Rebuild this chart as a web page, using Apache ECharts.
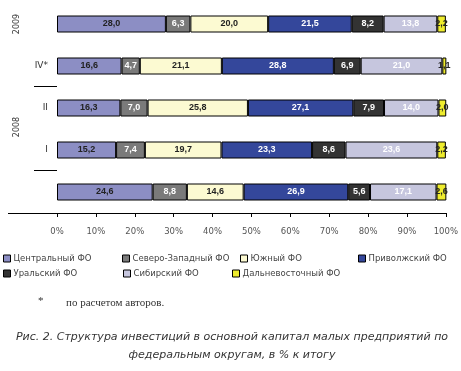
<!DOCTYPE html>
<html><head><meta charset="utf-8">
<script src="https://cdn.jsdelivr.net/npm/echarts@6/dist/echarts.min.js"></script>
<style>html,body{margin:0;padding:0;background:#fff}#c{width:461px;height:371px}</style>
</head><body><div id="c"></div>
<script>
const categories = ['2009', 'IV*', 'II', 'I', '2007'];
const catLabels = ['', 'IV*', 'II', 'I', ''];
const central = [28.0, 16.6, 16.3, 15.2, 24.6];
const northwest = [6.3, 4.7, 7.0, 7.4, 8.8];
const south = [20.0, 21.1, 25.8, 19.7, 14.6];
const volga = [21.5, 28.8, 27.1, 23.3, 26.9];
const ural = [8.2, 6.9, 7.9, 8.6, 5.6];
const siberia = [13.8, 21.0, 14.0, 23.6, 17.1];
const fareast = [2.2, 1.1, 2.0, 2.2, 2.6];
const xTicks = ['0%','10%','20%','30%','40%','50%','60%','70%','80%','90%','100%'];
const names = ['Центральный ФО','Северо-Западный ФО','Южный ФО','Приволжский ФО','Уральский ФО','Сибирский ФО','Дальневосточный ФО'];
const values = [central, northwest, south, volga, ural, siberia, fareast];
const colors = ['#8c8ec4','#7a7a7a','#fcfad2','#34479b','#333333','#c6c6de','#eeec2e'];
const labelColors = ['#222','#fff','#222','#fff','#fff','#fff','#222'];

const series = names.map((n, i) => ({
  name: n, type: 'bar', stack: 'all', barWidth: 17,
  data: values[i],
  itemStyle: { color: colors[i], borderColor: '#000', borderWidth: 1 },
  label: { show: true, position: 'inside', color: labelColors[i], fontSize: 9, fontWeight: 'bold',
    fontFamily: 'Liberation Sans', formatter: p => p.value.toFixed(1).replace('.', ',') },
  emphasis: { disabled: true }
}));

const legPos = [[3,254],[122,254],[240,254],[358,254],[3,269],[123,269],[232,269]];
const legends = names.map((n, i) => ({
  data: [n], left: legPos[i][0], top: legPos[i][1], itemWidth: 7, itemHeight: 7, itemGap: 3,
  padding: 0, icon: 'rect',
  itemStyle: { borderColor: '#000', borderWidth: 1 },
  textStyle: { fontSize: 8.5, color: '#444', fontFamily: 'DejaVu Sans', padding: [0,0,0,-2] }
}));

const chart = echarts.init(document.getElementById('c'));
chart.setOption({
  animation: false,
  legend: legends,
  grid: { left: 57, right: 14, top: 3, height: 210 },
  xAxis: { type: 'value', min: 0, max: 100, interval: 10,
    axisLine: { show: true, lineStyle: { color: '#000' } },
    axisTick: { show: true, length: 4, lineStyle: { color: '#000' } },
    splitLine: { show: false },
    axisLabel: { margin: 14, fontSize: 8.5, color: '#555', fontFamily: 'DejaVu Sans',
      formatter: (v) => xTicks[Math.round(v / 10)] } },
  yAxis: { type: 'category', inverse: true, data: categories,
    axisLine: { show: false }, axisTick: { show: false },
    axisLabel: { margin: 9, fontSize: 9, color: '#333', fontFamily: 'DejaVu Sans',
      formatter: (v, i) => catLabels[i] } },
  graphic: [
    { type: 'line', shape: { x1: 8, y1: 213.5, x2: 57, y2: 213.5 }, style: { stroke: '#000', lineWidth: 1 } },
    { type: 'line', shape: { x1: 34, y1: 86.5, x2: 57, y2: 86.5 }, style: { stroke: '#000', lineWidth: 1 } },
    { type: 'line', shape: { x1: 34, y1: 170.5, x2: 57, y2: 170.5 }, style: { stroke: '#000', lineWidth: 1 } },
    { type: 'text', x: 17, y: 24, rotation: Math.PI / 2,
      style: { text: '2009', fontSize: 8, fill: '#333', fontFamily: 'DejaVu Sans', align: 'center', verticalAlign: 'middle' } },
    { type: 'text', x: 17, y: 127, rotation: Math.PI / 2,
      style: { text: '2008', fontSize: 8, fill: '#333', fontFamily: 'DejaVu Sans', align: 'center', verticalAlign: 'middle' } },
    { type: 'text', x: 38, y: 296,
      style: { text: '*', fontSize: 11, fill: '#333', fontFamily: 'Liberation Serif' } },
    { type: 'text', x: 66, y: 298,
      style: { text: 'по расчетом авторов.', fontSize: 11, fill: '#333', fontFamily: 'Liberation Serif' } },
    { type: 'text', x: 232, y: 337,
      style: { text: 'Рис. 2. Структура инвестиций в основной капитал малых предприятий по', fontSize: 11,
        fontStyle: 'italic', fill: '#333', fontFamily: 'DejaVu Sans', align: 'center', verticalAlign: 'middle' } },
    { type: 'text', x: 232, y: 355,
      style: { text: 'федеральным округам, в % к итогу', fontSize: 11,
        fontStyle: 'italic', fill: '#333', fontFamily: 'DejaVu Sans', align: 'center', verticalAlign: 'middle' } }
  ],
  series: series
});
</script></body></html>
